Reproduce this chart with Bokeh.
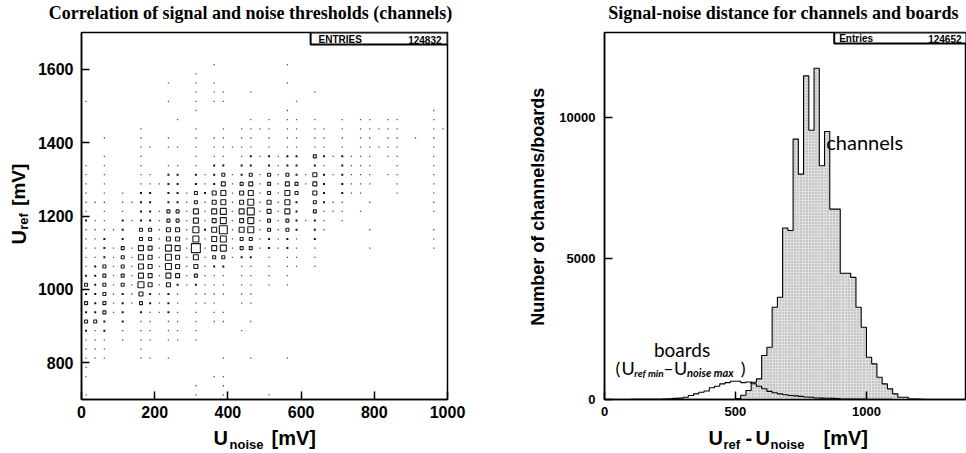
import numpy as np
from bokeh.plotting import figure
from bokeh.layouts import row, column
from bokeh.models import Label, FixedTicker, Range1d
from bokeh.core.properties import value
from bokeh.embed import file_html
from bokeh.resources import INLINE

# ---------------- left plot data (2D box histogram) ----------------
noise_lo, noise_hi = 0, 1000          # U_noise axis (mV)
ref_lo, ref_hi = 700, 1700            # U_ref axis (mV)
cell_mv = 25                          # bin width in both directions
# rows from top (U_ref = 1687.5) to bottom (712.5); digit = box size level per cell
box_rows = [
    "0000000000 0000000000 0000000000 0000000000",
    "0000000000 0000000000 0000000000 0000000000",
    "0000000000 0000000000 0000000000 0000000000",
    "0000000000 0000100000 0010000000 0000000000",
    "0000000000 0010000000 0000000000 0000000000",
    "0000000001 0010100000 0010000000 0000000000",
    "0000000000 0010110010 0000010000 0000000000",
    "1000000001 0010110000 0001000000 0000000000",
    "0000000000 0010000000 0010000000 0000000010",
    "0000000000 1000000010 1011010010 1101100010",
    "0000001000 0010010111 1011011010 1111100011",
    "0010001001 0010110110 1011011010 1101101010",
    "0000001101 1010111110 1011011010 1111100010",
    "0010001000 0010110121 2122032121 1101100010",
    "1010001001 1010220220 2122021021 1100100010",
    "1010001102 2021231231 3132142121 1101100010",
    "1010001112 2021241341 3143142021 1100100010",
    "1010102202 2132451451 3153042021 1000100010",
    "1110112202 2131451461 4152032110 0100000010",
    "1010102213 3151561571 4152031110 1000000010",
    "2110212213 3151461461 3132121010 0000000000",
    "1111203314 4162581561 3132021000 0100000010",
    "1120203314 4161561331 2121020000 0000000010",
    "1121315416 5191561331 2121010000 0100000010",
    "1121315416 4151331220 1011010000 0000000000",
    "1231315416 4141220110 1011010000 0000000000",
    "2231315415 4131110110 1010000000 0000000000",
    "3231316414 2121110110 1010000000 0000000000",
    "2231214212 1011110110 0000000000 0000000000",
    "3231213212 1011100110 0000000000 0000000000",
    "2231202112 1010110000 0000000000 0000000000",
    "3320201101 1010110010 0000000000 0000000000",
    "2120101101 1010000100 0000000000 0000000000",
    "1110101101 1010000000 0000000000 0000000000",
    "1110001000 0000000000 0000000000 0000000000",
    "1110001101 0000010010 0010000000 0000000000",
    "1000000000 0000000000 0000000000 0000000000",
    "1000000000 0000110000 0000000000 0000000000",
    "0000000000 0010010000 0000000000 0000000000",
    "1000000000 0010010000 1000000000 0000000000",
]
max_level = 9.2
left_entries = "124832"
left_xticks = [0, 200, 400, 600, 800, 1000]
left_yticks = [800, 1000, 1200, 1400, 1600]

# ---------------- right plot data (1D histograms) ----------------
diff_lo, diff_hi = 0, 1382
count_hi = 13030
hist_bin = 20
chan_first_edge = 500
chan_counts = [30, 150, 320, 615, 734, 1560, 1855, 3273, 3628, 6088,
               6000, 9245, 8000, 11490, 9560, 11760, 8300, 9515, 6760, 6760,
               4480, 4480, 4337, 3273, 2565, 1500, 1265, 790, 556, 378,
               200, 80, 80, 20, 20, 10]
board_first_edge = 100
board_counts = [3, 3, 3, 5, 5, 10, 15, 25, 40, 50,
                82, 140, 200, 260, 300, 415, 470, 556, 600, 650,
                650, 600, 620, 560, 470, 380, 290, 240, 200, 170,
                140, 130, 110, 90, 80, 55, 50, 45, 40, 30,
                20, 20, 20, 15, 15, 10, 10, 5, 5, 5]
right_entries = "124652"
right_xticks = [0, 500, 1000]
right_yticks = [0, 5000, 10000]

# ---------------- layout geometry (page pixels) ----------------
H_TOP, H_MID, H_BOT = 26, 398, 29
G1 = dict(fx0=78, fx1=447, fy0=32, fy1=399, x0=noise_lo, x1=noise_hi, y0=ref_lo, y1=ref_hi)
G2 = dict(fx0=602, fx1=966, fy0=32, fy1=399, x0=diff_lo, x1=diff_hi, y0=0, y1=count_hi)
ORIGINS = {}
BASE_SHIFT = 0.3   # compensation of the renderer's baseline placement (in em)


def to_data(g, px, py):
    x = g["x0"] + (px - g["fx0"]) / (g["fx1"] - g["fx0"]) * (g["x1"] - g["x0"])
    y = g["y1"] - (py - g["fy0"]) / (g["fy1"] - g["fy0"]) * (g["y1"] - g["y0"])
    return x, y


def shifted(px, py, size, angle):
    if angle == 0:
        return px, py - BASE_SHIFT * size
    return px - BASE_SHIFT * size, py


def lab(p, g, text, px, py, size, style="bold", font="Liberation Sans",
        align="left", angle=0.0, color="black"):
    px, py = shifted(px, py, size, angle)
    x, y = to_data(g, px, py)
    p.add_layout(Label(x=x, y=y, text=text, text_font=font, text_font_size=f"{size}px",
                       text_font_style=style, text_align=align, text_baseline="alphabetic",
                       angle=angle, text_color=color))


def text_fig(name, w, h, ox, oy):
    f = figure(width=w, height=h, x_range=Range1d(0, w), y_range=Range1d(0, h),
               output_backend="svg", toolbar_location=None, min_border=0, title=None,
               x_axis_location=None, y_axis_location=None, outline_line_color=None)
    f.grid.visible = False
    ORIGINS[name] = (ox, oy, h)
    return f


def put(f, name, text, px, py, size, style="bold", font="Liberation Sans", align="left",
        angle=0.0):
    ox, oy, h = ORIGINS[name]
    px, py = shifted(px, py, size, angle)
    f.text(x=[px - ox], y=[h - (py - oy)], text=[text], text_font=value(font),
           text_font_size=f"{size}px", text_font_style=style, text_align=align,
           text_baseline="alphabetic", angle=angle, text_color="black")


def style_axes(p, xt, yt, size, xstand, ystand):
    p.xaxis.ticker = FixedTicker(ticks=xt)
    p.yaxis.ticker = FixedTicker(ticks=yt)
    for ax in (p.xaxis, p.yaxis):
        ax.major_tick_in = 8
        ax.major_tick_out = 0
        ax.minor_tick_line_color = None
        ax.major_tick_line_width = 1.5
        ax.major_tick_line_color = "black"
        ax.axis_line_color = "black"
        ax.axis_line_width = 1.5
        ax.major_label_text_font = "Liberation Sans"
        ax.major_label_text_font_style = "bold"
        ax.major_label_text_font_size = f"{size}px"
        ax.major_label_text_color = "black"
    p.xaxis.major_label_standoff = xstand
    p.yaxis.major_label_standoff = ystand
    p.xgrid.grid_line_color = None
    p.ygrid.grid_line_color = None
    p.outline_line_color = "black"
    p.outline_line_width = 1.5


# ======================= left panel =======================
YL1_W = 34
p1 = figure(width=480 - YL1_W, height=H_MID, x_range=Range1d(noise_lo, noise_hi),
            y_range=Range1d(ref_lo, ref_hi), output_backend="svg", toolbar_location=None,
            title=None,
            min_border_left=G1["fx0"] - YL1_W, min_border_right=480 - G1["fx1"],
            min_border_top=G1["fy0"] - H_TOP, min_border_bottom=H_TOP + H_MID - G1["fy1"])
style_axes(p1, left_xticks, left_yticks, 16, 6, 8)

xs_s, ys_s, ws_s, cs_s = [], [], [], []
xs_b, ys_b, ws_b = [], [], []
nrows = len(box_rows)
for r, s in enumerate(box_rows):
    s = s.replace(" ", "")
    j = nrows - 1 - r
    yc = ref_lo + cell_mv * (j + 0.5)
    for i, ch in enumerate(s):
        lvl = int(ch)
        if lvl == 0:
            continue
        xc = noise_lo + cell_mv * (i + 0.5)
        side = cell_mv * lvl / max_level
        if lvl <= 2:
            xs_s.append(xc); ys_s.append(yc)
            ws_s.append(side * (1.3 if lvl == 1 else 1.0))
            cs_s.append("#555555" if lvl == 1 else "#111111")
        else:
            xs_b.append(xc); ys_b.append(yc); ws_b.append(side)

p1.rect(x=xs_s, y=ys_s, width=ws_s, height=ws_s, fill_color=cs_s, line_color=None)
p1.rect(x=xs_b, y=ys_b, width=ws_b, height=ws_b, fill_color=None,
        line_color="#1a1a1a", line_width=1.1)

bx0, by0 = to_data(G1, 309, 44)
bx1, by1 = to_data(G1, 447, 32)
p1.quad(left=[bx0], right=[bx1], bottom=[by0], top=[by1], fill_color="white",
        line_color="black", line_width=2)
lab(p1, G1, "ENTRIES", 317, 42, 10)
lab(p1, G1, left_entries, 441, 42, 10, align="right")

t1 = text_fig("t1", 480, H_TOP, 0, 0)
put(t1, "t1", "Correlation of signal and noise thresholds (channels)", 250, 18, 18,
    font="Liberation Serif", align="center")
yl1 = text_fig("yl1", YL1_W, H_MID, 0, H_TOP)
put(yl1, "yl1", "U", 24, 256, 20, angle=np.pi / 2)
put(yl1, "yl1", "ref", 27, 240, 13, angle=np.pi / 2)
put(yl1, "yl1", "[mV]", 24, 214, 19, angle=np.pi / 2)
xl1 = text_fig("xl1", 480, H_BOT, 0, H_TOP + H_MID)
put(xl1, "xl1", "U", 213, 443, 20)
put(xl1, "xl1", "noise", 229, 448, 13)
put(xl1, "xl1", "[mV]", 271, 443, 20)

# ======================= right panel =======================
YL2_W = 76
p2 = figure(width=966 - 480 - YL2_W, height=H_MID, x_range=Range1d(diff_lo, diff_hi),
            y_range=Range1d(0, count_hi), output_backend="svg", toolbar_location=None,
            title=None,
            min_border_left=G2["fx0"] - 480 - YL2_W, min_border_right=0,
            min_border_top=G2["fy0"] - H_TOP, min_border_bottom=H_TOP + H_MID - G2["fy1"])
style_axes(p2, right_xticks, right_yticks, 13, 7, 9)


def step_outline(first_edge, counts):
    edges = first_edge + hist_bin * np.arange(len(counts) + 1)
    xs = np.repeat(edges, 2)
    ys = np.concatenate([[0], np.repeat(counts, 2), [0]])
    return edges, xs, ys


ce, cx, cy = step_outline(chan_first_edge, chan_counts)
p2.quad(left=ce[:-1], right=ce[1:], bottom=0, top=chan_counts, fill_color="#dedede",
        line_color=None, hatch_pattern="dot", hatch_color="#a0a0a0", hatch_scale=3,
        hatch_weight=1)
p2.line(cx, cy, line_color="black", line_width=1.1)
be, bxs, bys = step_outline(board_first_edge, board_counts)
p2.line(bxs, bys, line_color="black", line_width=1.1)

sx0, sy0 = to_data(G2, 833, 43)
sx1, sy1 = to_data(G2, 966, 32)
p2.quad(left=[sx0], right=[sx1], bottom=[sy0], top=[sy1], fill_color="white",
        line_color="black", line_width=2)
lab(p2, G2, "Entries", 838, 41, 10)
lab(p2, G2, right_entries, 961, 41, 10, align="right")

lab(p2, G2, "channels", 825, 147, 20, style="normal", font="Lato")
lab(p2, G2, "boards", 680, 355, 19, style="normal", font="Lato", align="center")
lab(p2, G2, "(", 613, 373, 18, style="normal", font="Lato")
lab(p2, G2, "U", 619, 373, 18, style="normal", font="Lato")
lab(p2, G2, "ref min", 632, 375, 10, style="bold italic", font="Lato")
lab(p2, G2, "\u2013", 661, 373, 18, style="normal", font="Lato")
lab(p2, G2, "U", 672, 373, 18, style="normal", font="Lato")
lab(p2, G2, "noise max", 685, 375, 11, style="bold italic", font="Lato")
lab(p2, G2, ")", 739, 373, 18, style="normal", font="Lato")

t2 = text_fig("t2", 486, H_TOP, 480, 0)
put(t2, "t2", "Signal-noise distance for channels and boards", 783, 18, 18,
    font="Liberation Serif", align="center")
yl2 = text_fig("yl2", YL2_W, H_MID, 480, H_TOP)
put(yl2, "yl2", "Number of channels/boards", 543, 215, 18, angle=np.pi / 2, align="center")
xl2 = text_fig("xl2", 486, H_BOT, 480, H_TOP + H_MID)
put(xl2, "xl2", "U", 708, 443, 20)
put(xl2, "xl2", "ref", 723, 448, 13)
put(xl2, "xl2", "-", 745, 443, 20)
put(xl2, "xl2", "U", 755, 443, 20)
put(xl2, "xl2", "noise", 770, 448, 13)
put(xl2, "xl2", "[mV]", 823, 443, 20)

left_panel = column(t1, row(yl1, p1), xl1)
right_panel = column(t2, row(yl2, p2), xl2)
layout = row(left_panel, right_panel)
open("out.html", "w").write(file_html(layout, INLINE))
